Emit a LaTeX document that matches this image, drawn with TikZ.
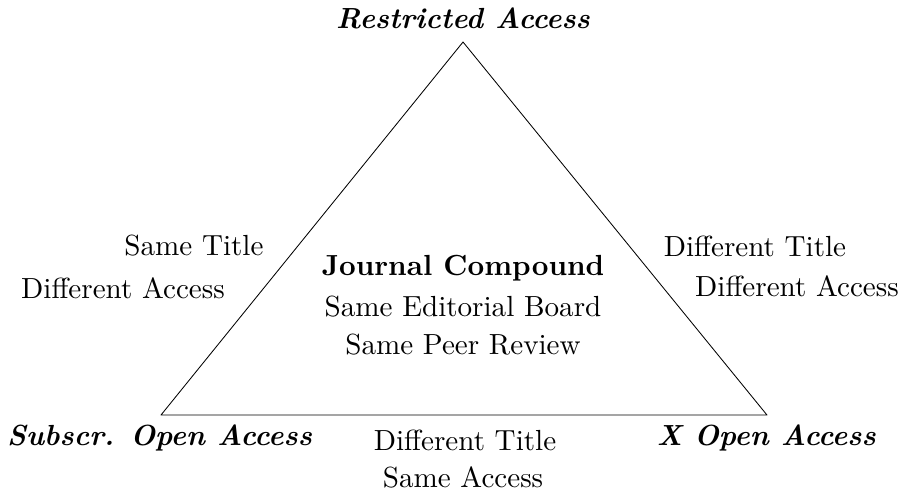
\documentclass[tikz,border=0pt]{standalone}
\usepackage{tkz-euclide}
\usetikzlibrary{calc}
\tikzset{
  every node/.style={scale=1.38},
  corner/.style={font=\bfseries\itshape},
  side/.style={inner sep=1pt},
}

\begin{document}
\begin{tikzpicture}
\useasboundingbox (0,0) rectangle (15.1,8.167);
\tkzSetUpLine[line width=0.4pt,color=black]

\tkzDefPoint(7.717,7.467){R}
\tkzDefPoint(2.683,1.25){S}
\tkzDefPoint(12.783,1.25){X}

\tkzDrawPolygon(R,S,X)

% corners
\node[corner] (restricted) at (7.717,7.867) {Restricted Access};
\node[corner] (subscr) at (2.66,0.867) {Subscr. Open Access};
\node[corner] (xopen) at (12.77,0.867) {X Open Access};

% sides
\node[side] (lefttitle) at (3.233,4.067) {Same Title};
\node[side] (leftaccess) at (2.05,3.367) {Different Access};
\node[side] (righttitle) at (12.583,4.067) {Different Title};
\node[side] (rightaccess) at (13.283,3.4) {Different Access};
\node[side] (bottomtitle) at (7.75,0.833) {Different Title};
\node[side] (bottomaccess) at (7.717,0.217) {Same Access};

% centre
\node[font=\bfseries] (compound) at (7.717,3.7) {Journal Compound};
\node (board) at (7.717,3.05) {Same Editorial Board};
\node (review) at (7.717,2.417) {Same Peer Review};

\end{tikzpicture}
\end{document}
